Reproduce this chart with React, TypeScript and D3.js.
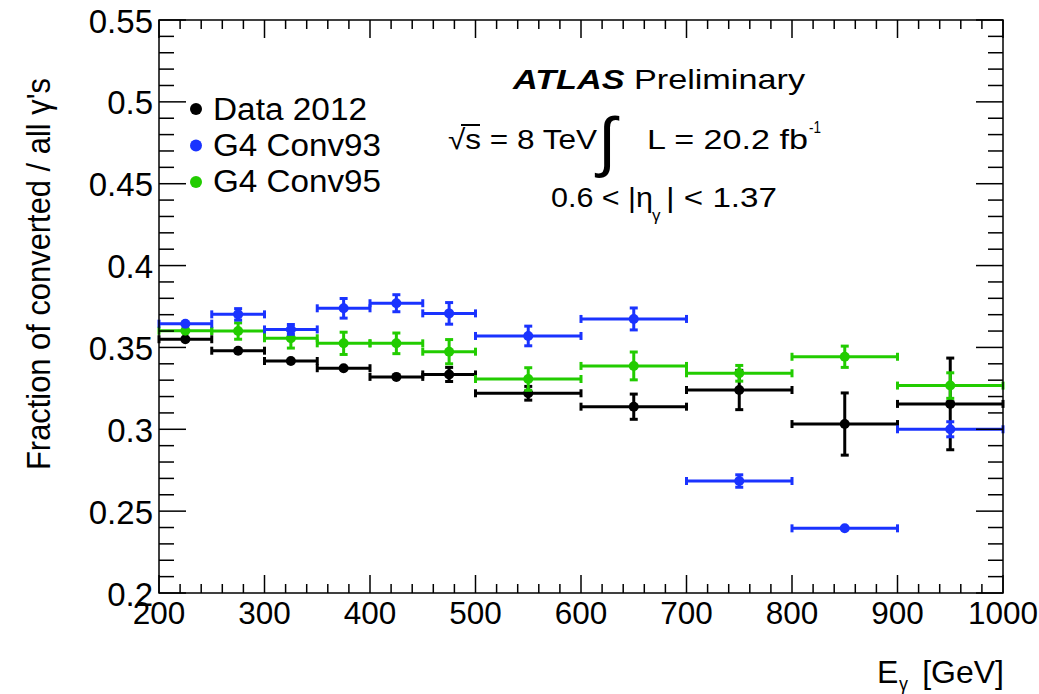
import React from "react";
import * as d3 from "d3";

const binEdges = [200, 250, 300, 350, 400, 450, 500, 600, 700, 800, 900, 1000];
const dataVals = [0.355, 0.348, 0.3417, 0.3373, 0.332, 0.3335, 0.322, 0.3138, 0.324, 0.3032, 0.3155];
const dataErrs = [0.0012, 0.001, 0.001, 0.0014, 0.0025, 0.0043, 0.0042, 0.0077, 0.012, 0.019, 0.028];
const conv93Vals = [0.3645, 0.3702, 0.361, 0.3739, 0.377, 0.3708, 0.357, 0.3674, 0.2684, 0.2395, 0.3];
const conv93Errs = [0.0015, 0.0035, 0.003, 0.006, 0.0052, 0.0066, 0.006, 0.0067, 0.0038, 0.001, 0.0046];
const conv95Vals = [0.3602, 0.36, 0.3556, 0.3525, 0.3525, 0.3474, 0.3307, 0.3387, 0.3342, 0.3443, 0.3267];
const conv95Errs = [0.0015, 0.005, 0.006, 0.0068, 0.0063, 0.0074, 0.0069, 0.0085, 0.0048, 0.0065, 0.0078];
const xTicks = [200, 300, 400, 500, 600, 700, 800, 900, 1000];
const yTicks = [0.2, 0.25, 0.3, 0.35, 0.4, 0.45, 0.5, 0.55];
const seriesNames = ["Data 2012", "G4 Conv93", "G4 Conv95"];
const seriesColors = ["#000000", "#1a33ff", "#22cc00"];

const L = 159, R = 1003, T = 20, B = 593;
const FONT = "'Liberation Sans', Arial, Helvetica, sans-serif";

export default function App() {
  const x = d3.scaleLinear().domain([200, 1000]).range([L, R]);
  const y = d3.scaleLinear().domain([0.2, 0.55]).range([B, T]);

  const xMinor = d3.range(200, 1001, 20);
  const yMinor = d3.range(0, 36).map((i) => 0.2 + i * 0.01);

  const series = [
    { vals: dataVals, errs: dataErrs, color: seriesColors[0] },
    { vals: conv95Vals, errs: conv95Errs, color: seriesColors[2] },
    { vals: conv93Vals, errs: conv93Errs, color: seriesColors[1] },
  ];

  const sw = 3;
  const cap = 4;
  const mr = 5;

  const legendW = [154, 168, 168];

  return (
    <svg
      width={1039}
      height={694}
      style={{ position: "absolute", left: 0, top: 0, background: "#fff" }}
      fontFamily={FONT}
    >
      <rect x={0} y={0} width={1039} height={694} fill="#fff" />
      {/* series */}
      {series.map((s, si) => (
        <g key={si} stroke={s.color} fill={s.color}>
          {s.vals.map((v, i) => {
            const x0 = x(binEdges[i]);
            const x1 = x(binEdges[i + 1]);
            const xc = (x0 + x1) / 2;
            const yc = y(v);
            const yt = y(v + s.errs[i]);
            const yb = y(v - s.errs[i]);
            const showV = (yb - yt) / 2 > mr - 0.5;
            return (
              <g key={i}>
                <line x1={x0} x2={x1} y1={yc} y2={yc} strokeWidth={sw} />
                <line x1={x0} x2={x0} y1={yc - cap} y2={yc + cap} strokeWidth={sw} />
                <line x1={x1} x2={x1} y1={yc - cap} y2={yc + cap} strokeWidth={sw} />
                {showV && (
                  <>
                    <line x1={xc} x2={xc} y1={yt} y2={yb} strokeWidth={sw} />
                    <line x1={xc - cap} x2={xc + cap} y1={yt} y2={yt} strokeWidth={sw} />
                    <line x1={xc - cap} x2={xc + cap} y1={yb} y2={yb} strokeWidth={sw} />
                  </>
                )}
                <circle cx={xc} cy={yc} r={mr} stroke="none" />
              </g>
            );
          })}
        </g>
      ))}

      {/* frame */}
      <rect x={L} y={T} width={R - L} height={B - T} fill="none" stroke="#000" strokeWidth={1.5} />
      <g stroke="#000" strokeWidth={1.5}>
        {xMinor.map((t, i) => {
          const major = Math.abs((t - 200) % 100) < 1e-6;
          const len = major ? 18 : 9;
          return (
            <g key={i}>
              <line x1={x(t)} x2={x(t)} y1={B} y2={B - len} />
              <line x1={x(t)} x2={x(t)} y1={T} y2={T + len} />
            </g>
          );
        })}
        {yMinor.map((t, i) => {
          const major = i % 5 === 0;
          const len = major ? 27 : 15;
          return (
            <g key={i}>
              <line x1={L} x2={L + len} y1={y(t)} y2={y(t)} />
              <line x1={R} x2={R - len} y1={y(t)} y2={y(t)} />
            </g>
          );
        })}
      </g>
      {/* tick labels */}
      <g fill="#000">
        {xTicks.map((t) => (
          <text key={t} x={x(t)} y={B + 31} textAnchor="middle" fontSize={31.5}>
            {t}
          </text>
        ))}
        {yTicks.map((t) => (
          <text key={t} x={L - 6} y={y(t) + 12.5} textAnchor="end" fontSize={33}>
            {d3.format("")(+t.toFixed(2))}
          </text>
        ))}
      </g>
      {/* axis titles */}
      <text
        transform={`translate(50, 274) rotate(-90)`}
        textAnchor="middle"
        fontSize={33}
        textLength={392}
        lengthAdjust="spacingAndGlyphs"
        fill="#000"
      >
        Fraction of converted / all γ's
      </text>
      <text x={877} y={683} fontSize={32} fill="#000">E</text>
      <text x={899} y={690} fontSize={18} fill="#000">γ</text>
      <text x={1004} y={683} textAnchor="end" fontSize={32} fill="#000">[GeV]</text>

      {/* legend */}
      <g>
        {seriesNames.map((n, i) => (
          <g key={n}>
            <circle cx={196} cy={109 + i * 36.5} r={6} fill={seriesColors[i]} />
            <text
              x={213}
              y={119.5 + i * 36.3}
              fill="#000"
              fontSize={31}
              textLength={legendW[i]}
              lengthAdjust="spacingAndGlyphs"
            >
              {n}
            </text>
          </g>
        ))}
      </g>

      {/* ATLAS label */}
      <g fill="#000" fontSize={28}>
        <text x={513} y={89} textLength={292} lengthAdjust="spacingAndGlyphs">
          <tspan fontWeight="bold" fontStyle="italic">ATLAS</tspan>
          <tspan> Preliminary</tspan>
        </text>
        <text x={448} y={149} textLength={149} lengthAdjust="spacingAndGlyphs">
          √s = 8 TeV
        </text>
        <line x1={461} x2={480} y1={125} y2={125} stroke="#000" strokeWidth={2} />
        <text x={598} y={164} fontSize={66}>
          ∫
        </text>
        <text x={647} y={149} textLength={161} lengthAdjust="spacingAndGlyphs">
          L = 20.2 fb
        </text>
        <text x={809} y={133} fontSize={17} textLength={12} lengthAdjust="spacingAndGlyphs">
          -1
        </text>
        <text x={551} y={207} textLength={102} lengthAdjust="spacingAndGlyphs">
          0.6 &lt; |η
        </text>
        <text x={652} y={221} fontSize={17}>
          γ
        </text>
        <text x={666} y={207} textLength={111} lengthAdjust="spacingAndGlyphs">
          | &lt; 1.37
        </text>
      </g>
    </svg>
  );
}
